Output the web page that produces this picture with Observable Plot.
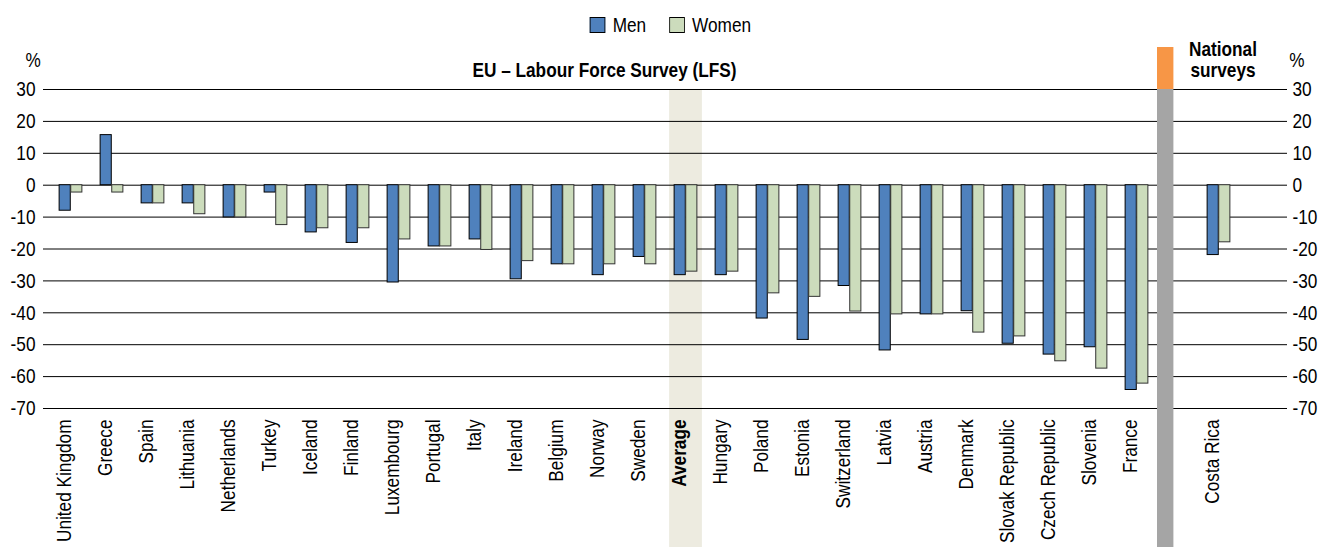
<!DOCTYPE html>
<html><head><meta charset="utf-8">
<script src="https://cdn.jsdelivr.net/npm/d3@7"></script>
<script src="https://cdn.jsdelivr.net/npm/@observablehq/plot@0.6"></script>
<style>
body{margin:0;background:#fff;font-family:"Liberation Sans",Arial,sans-serif;}
#legend{height:40px;width:1320px;box-sizing:border-box;padding-top:9px;padding-left:20px;display:flex;align-items:center;justify-content:center;color:#000;}
#legend .inner{display:flex;align-items:center;font-size:21px;transform:scaleX(0.82);transform-origin:center;}
.item{display:flex;align-items:center;margin:0 14px;}
.sw{display:inline-block;width:17px;height:14px;border:1px solid #000;margin-right:9px;}
</style></head><body>
<div id="legend"><div class="inner"></div></div>
<div id="chart"></div>
<script>
// ---- data ----
const lfsCountries = ["United Kingdom","Greece","Spain","Lithuania","Netherlands","Turkey","Iceland","Finland","Luxembourg","Portugal","Italy","Ireland","Belgium","Norway","Sweden","Average","Hungary","Poland","Estonia","Switzerland","Latvia","Austria","Denmark","Slovak Republic","Czech Republic","Slovenia","France"];
const lfsMen   = [-8.0, 15.7, -5.7, -5.7, -10.1, -2.3, -14.8, -18.1, -30.5, -19.2, -17.0, -29.5, -24.8, -28.2, -22.5, -28.2, -28.2, -41.8, -48.5, -31.6, -51.8, -40.5, -39.5, -49.7, -53.1, -50.8, -64.2];
const lfsWomen = [-2.3, -2.3, -5.7, -9.1, -10.1, -12.5, -13.5, -13.5, -17.0, -19.2, -20.3, -23.8, -24.8, -24.8, -24.8, -27.1, -27.1, -33.9, -35.0, -39.6, -40.5, -40.5, -46.2, -47.4, -55.2, -57.5, -62.2];
const natCountries = ["Costa Rica"];
const natMen   = [-21.9];
const natWomen = [-17.9];
const yTicks = [-70, -60, -50, -40, -30, -20, -10, 0, 10, 20, 30];
const series = ["Men", "Women"];
const colors = ["#4f81bd", "#ccdcbc"];
const lfsTitle = "EU – Labour Force Survey (LFS)";
const natTitle = "National\nsurveys";

// ---- derived ----
const SEP = "|", TAIL = "";
const xDomain = [...lfsCountries, SEP, ...natCountries, TAIL];
const countries = [...lfsCountries, ...natCountries];
const menRows = countries.map((c, i) => ({country: c, value: [...lfsMen, ...natMen][i]}));
const womenRows = countries.map((c, i) => ({country: c, value: [...lfsWomen, ...natWomen][i]}));

// legend
const lg = document.querySelector("#legend .inner");
series.forEach((s, i) => {
  const it = document.createElement("span"); it.className = "item";
  const sw = document.createElement("span"); sw.className = "sw"; sw.style.background = colors[i];
  it.appendChild(sw); it.appendChild(document.createTextNode(s)); lg.appendChild(it);
});

const W = 1320, H = 507, ML = 43, MR = 33, MT = 49, MB = 139;
const bw = (W - ML - MR) / xDomain.length;
const barW = 0.28 * bw;
const FS = 21;
const fmt = d => String(d);

const avgBand = (index, scales, values, dims) => {
  const x = scales.x; const b = x.bandwidth ? x.bandwidth() : bw;
  const cx = x("Average") + b / 2;
  const g = d3.create("svg:g");
  g.append("rect").attr("x", cx - 0.4 * b).attr("width", 0.8 * b)
    .attr("y", dims.marginTop).attr("height", dims.height - dims.marginTop).attr("fill", "#edebe0");
  return g.node();
};
const separator = (index, scales, values, dims) => {
  const x = scales.x; const b = x.bandwidth ? x.bandwidth() : bw;
  const x0 = x(SEP);
  const g = d3.create("svg:g");
  g.append("rect").attr("x", x0).attr("width", 0.4 * b)
    .attr("y", dims.marginTop - 42).attr("height", 42).attr("fill", "#f79646");
  g.append("rect").attr("x", x0).attr("width", 0.4 * b)
    .attr("y", dims.marginTop).attr("height", dims.height - dims.marginTop).attr("fill", "#a5a5a5");
  return g.node();
};

const chart = Plot.plot({
  width: W, height: H,
  marginLeft: ML, marginRight: MR, marginTop: MT, marginBottom: MB,
  style: {fontFamily: '"Liberation Sans",Arial,sans-serif', fontSize: FS + "px", color: "#000", background: "#fff"},
  x: {domain: xDomain, padding: 0, axis: null},
  y: {domain: [-70, 30], axis: null},
  marks: [
    avgBand,
    Plot.gridY(yTicks, {stroke: "#000", strokeOpacity: 1, strokeWidth: 1}),
    Plot.axisY(yTicks, {anchor: "left", tickSize: 0, tickPadding: 8, fontSize: FS, fill: "#000", label: null, tickFormat: fmt}),
    Plot.axisY(yTicks, {anchor: "right", tickSize: 0, tickPadding: 5, fontSize: FS, fill: "#000", label: null, tickFormat: fmt}),
    separator,
    Plot.barY(menRows, {x: "country", y: "value", fill: colors[0], stroke: "#000", strokeWidth: 1,
      insetLeft: bw / 2 - barW, insetRight: bw / 2}),
    Plot.barY(womenRows, {x: "country", y: "value", fill: colors[1], stroke: "#333", strokeWidth: 1,
      insetLeft: bw / 2, insetRight: bw / 2 - barW}),
    Plot.text(countries.filter(c => c !== "Average"), {x: d => d, frameAnchor: "bottom", rotate: -90,
      textAnchor: "end", dy: 11, fontSize: FS, fill: "#000"}),
    Plot.text(["Average"], {x: d => d, frameAnchor: "bottom", rotate: -90,
      textAnchor: "end", dy: 11, fontSize: FS, fontWeight: "bold", fill: "#000"}),
    Plot.text([lfsTitle], {frameAnchor: "top", dx: -61, dy: -27, fontSize: FS, fontWeight: "bold", fill: "#000"}),
    Plot.text([natTitle], {x: () => natCountries[0], frameAnchor: "top", dx: 4, dy: -48, lineHeight: 1.0, fontSize: FS, fontWeight: "bold", fill: "#000"}),
    Plot.text(["%"], {frameAnchor: "top-left", dx: -18, dy: -37, fontSize: FS, fill: "#000"}),
    Plot.text(["%"], {frameAnchor: "top-right", dx: 17, dy: -37, fontSize: FS, fill: "#000"})
  ]
});
document.getElementById("chart").appendChild(chart);

// condense all texts to mimic a narrow face
chart.querySelectorAll("text").forEach(t => {
  const spans = t.querySelectorAll("tspan");
  const els = spans.length ? Array.from(spans) : [t];
  els.forEach(el => {
    const len = el.getComputedTextLength();
    if (len > 0) {
      el.setAttribute("textLength", (len * 0.82).toFixed(1));
      el.setAttribute("lengthAdjust", "spacingAndGlyphs");
    }
  });
});
</script>
</body></html>
